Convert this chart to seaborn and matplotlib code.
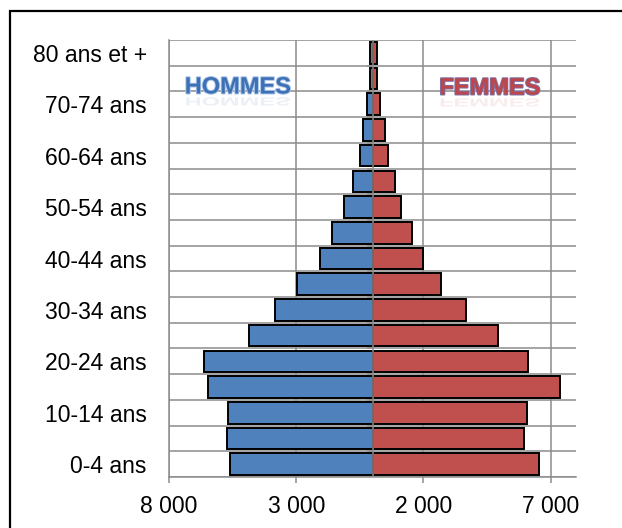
import numpy as np
import pandas as pd
import matplotlib
matplotlib.use("Agg")
import matplotlib.pyplot as plt
import matplotlib.patheffects as pe
import seaborn as sns
from matplotlib.patches import Rectangle, PathPatch
from matplotlib.textpath import TextPath
from matplotlib.font_manager import FontProperties
from matplotlib.transforms import Affine2D

# Age groups, youngest first
age_groups = ["0-4 ans", "5-9 ans", "10-14 ans", "15-19 ans", "20-24 ans",
              "25-29 ans", "30-34 ans", "35-39 ans", "40-44 ans", "45-49 ans",
              "50-54 ans", "55-59 ans", "60-64 ans", "65-69 ans", "70-74 ans",
              "75-79 ans", "80 ans et +"]
hommes = [5600, 5720, 5670, 6470, 6610, 4860, 3820, 2960, 2060, 1590,
          1120, 760, 500, 360, 220, 110, 90]
femmes = [6530, 5970, 6060, 7370, 6120, 4920, 3680, 2700, 1970, 1540,
          1140, 870, 610, 500, 300, 190, 180]
x_ticks = [-8000, -3000, 2000, 7000]
sexes = ["Hommes", "Femmes"]
palette = {"Hommes": "#4F81BD", "Femmes": "#C0504D"}
grid_color = "#8c8c8c"

sns.set_theme(style="white")
plt.rcParams["font.family"] = ["Liberation Sans", "DejaVu Sans"]

W, H = 622, 528
fig = plt.figure(figsize=(W / 100, H / 100), dpi=100)
ax = fig.add_axes([169 / W, 1 - 477 / H, (576 - 169) / W, (477 - 40) / H])

df = pd.DataFrame({
    "age": age_groups * 2,
    "sexe": ["Hommes"] * len(age_groups) + ["Femmes"] * len(age_groups),
    "effectif": [-v for v in hommes] + femmes,
})
order = age_groups[::-1]

sns.barplot(data=df, x="effectif", y="age", hue="sexe", order=order,
            hue_order=sexes, palette=palette, saturation=1, dodge=False,
            width=0.84, edgecolor="black", linewidth=1.4, errorbar=None,
            legend=False, ax=ax, zorder=2)

n = len(order)
ax.set_xlim(-8000, 8000)
ax.set_ylim(n - 0.5, -0.5)
ax.set_xticks(x_ticks)
ax.set_xticklabels([f"{abs(v):,}".replace(",", " ") for v in x_ticks])
ax.set_yticks(range(0, n, 2))
ax.set_yticklabels(order[::2])
ax.set_yticks(np.arange(-0.5, n, 1), minor=True)
ax.set_xlabel("")
ax.set_ylabel("")

ax.set_axisbelow(True)
ax.grid(axis="x", which="major", color=grid_color, lw=1.1)
ax.grid(axis="y", which="minor", color=grid_color, lw=1.1)
ax.grid(axis="y", which="major", visible=False)
ax.tick_params(axis="y", which="both", length=0, pad=16, labelsize=16.5,
               labelcolor="black")
ax.tick_params(axis="x", which="major", length=4, width=1.1, color=grid_color,
               direction="out", pad=9, labelsize=16.5, labelcolor="black",
               bottom=True)
for side in ("top", "right"):
    ax.spines[side].set_visible(False)
for side in ("left", "bottom"):
    ax.spines[side].set_color(grid_color)
    ax.spines[side].set_linewidth(1.1)

# Central category axis with its small tick marks
ax.axvline(0, color=grid_color, lw=1.1, zorder=3)
ax.hlines(np.arange(0.5, n - 1, 1), -200, 0, color=grid_color, lw=1.1, zorder=3)

# Word-art style titles for each side, with a faint reflection
fp = FontProperties(family="Liberation Sans", weight="bold")
size_pt = 17
size_px = size_pt * 100 / 72
for label, cx, cy, fill, edge in [("HOMMES", 238, 87, "#3d70b5", "#a9c4e8"),
                                  ("FEMMES", 490, 88, "#c0454b", "#7d6fa0")]:
    fig.text(cx / W, 1 - cy / H, label, ha="center", va="center",
             fontsize=size_pt, fontproperties=fp, color=fill,
             path_effects=[pe.withStroke(linewidth=1.4, foreground=edge)])
    tp = TextPath((0, 0), label, size=size_px, prop=fp)
    ext = tp.get_extents()
    base = H - (cy + 8.8)
    tr = Affine2D().translate(-ext.x0 - ext.width / 2, 0).scale(1, -0.5) \
        .translate(cx, base - 1.5)
    fig.add_artist(PathPatch(tp, transform=tr, facecolor=fill, edgecolor="none",
                             alpha=0.1))

# Outer chart frame
fig.add_artist(Rectangle((10 / W, -0.1), 1.0, (H - 11) / H + 0.1,
                         transform=fig.transFigure, fill=False,
                         edgecolor="black", lw=1.6))

fig.savefig("out.png", dpi=100)
